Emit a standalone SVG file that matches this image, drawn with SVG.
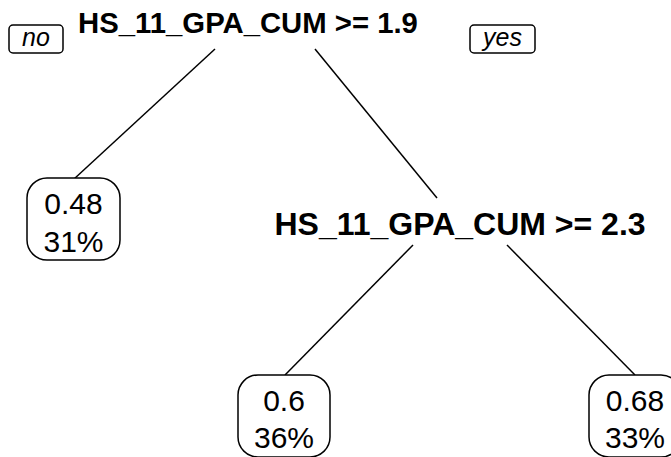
<svg xmlns="http://www.w3.org/2000/svg" width="671" height="457" viewBox="0 0 671 457">
<style>
.split{font-family:"Liberation Sans",Arial,Helvetica,sans-serif;font-weight:bold;fill:#000;text-anchor:middle}
.lbl{font-family:"Liberation Sans",Arial,Helvetica,sans-serif;font-style:italic;font-size:25px;fill:#000;text-anchor:middle}
.leaf text{font-family:"Liberation Sans",Arial,Helvetica,sans-serif;font-size:30px;fill:#000;text-anchor:middle}
.box{fill:#fff;stroke:#000;stroke-width:1.5}
.conn line{stroke:#000;stroke-width:1.5}
</style>
<rect width="671" height="457" fill="#fff"/>
<g id="connectors" class="conn">
<line x1="215" y1="49" x2="74" y2="179"/>
<line x1="315" y1="49" x2="437" y2="198"/>
<line x1="413" y1="245" x2="285" y2="375"/>
<line x1="507" y1="245" x2="635" y2="375"/>
</g>
<g id="root">
<text class="split" x="248" y="33" font-size="29.3">HS_11_GPA_CUM &gt;= 1.9</text>
<rect class="box" x="9" y="25" width="54" height="28" rx="4"/>
<text class="lbl" x="36" y="46">no</text>
<rect class="box" x="470" y="25" width="65" height="28" rx="4"/>
<text class="lbl" x="502.5" y="46">yes</text>
</g>
<g id="split2">
<text class="split" x="460" y="235" font-size="32">HS_11_GPA_CUM &gt;= 2.3</text>
</g>
<g id="leaf1" class="leaf">
<rect class="box" x="27" y="178" width="93" height="82" rx="20"/>
<text x="73.5" y="214">0.48</text>
<text x="73.5" y="252">31%</text>
</g>
<g id="leaf2" class="leaf">
<rect class="box" x="238" y="375" width="92" height="82" rx="20"/>
<text x="284" y="411">0.6</text>
<text x="284" y="448">36%</text>
</g>
<g id="leaf3" class="leaf">
<rect class="box" x="589" y="375" width="92" height="82" rx="20"/>
<text x="635" y="411">0.68</text>
<text x="635" y="448">33%</text>
</g>
</svg>
